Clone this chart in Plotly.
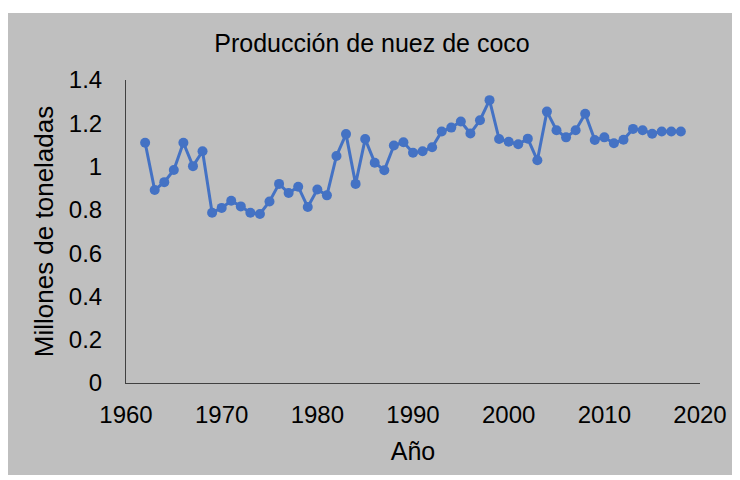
import plotly.graph_objects as go

years = list(range(1962, 2019))
production = [
    1.110, 0.892, 0.928, 0.984, 1.110, 1.002, 1.071, 0.787, 0.809, 0.842,
    0.816, 0.787, 0.781, 0.839, 0.920, 0.878, 0.907, 0.813, 0.894, 0.867,
    1.049, 1.150, 0.920, 1.127, 1.018, 0.983, 1.097, 1.112, 1.064, 1.071,
    1.089, 1.162, 1.180, 1.208, 1.153, 1.214, 1.307, 1.127, 1.115, 1.103,
    1.129, 1.029, 1.254, 1.168, 1.135, 1.168, 1.244, 1.123, 1.135, 1.108,
    1.124, 1.174, 1.168, 1.152, 1.162, 1.162, 1.162,
]
x_ticks = [1960, 1970, 1980, 1990, 2000, 2010, 2020]
y_ticks = [0, 0.2, 0.4, 0.6, 0.8, 1, 1.2, 1.4]
y_tick_text = ["0", "0.2", "0.4", "0.6", "0.8", "1", "1.2", "1.4"]

title_text = "Producción de nuez de coco"
x_title = "Año"
y_title = "Millones de toneladas"

BG = "#bfbfbf"
LINE = "#4472c4"
FONT = "Liberation Sans, Arial, sans-serif"

fig = go.Figure()
fig.add_trace(go.Scatter(
    x=years, y=production, mode="lines+markers",
    line=dict(color=LINE, width=3),
    marker=dict(color=LINE, size=10),
    showlegend=False,
))

# page body adds an 8px offset; figure is sized to fill the rest
W, H = 732, 472
L, R, T, B = 118, 40, 72, 97
pw, ph = W - L - R, H - T - B
fig.add_shape(
    type="rect", xref="paper", yref="paper", layer="below",
    x0=(0 - L) / pw, x1=(W + 10 - L) / pw,
    y0=(H - B - 467) / ph, y1=(H - B - 5) / ph,
    fillcolor=BG, line=dict(width=0),
)

fig.update_layout(
    width=W, height=H,
    margin=dict(l=L, r=R, t=T, b=B, autoexpand=False),
    paper_bgcolor="white",
    plot_bgcolor="rgba(0,0,0,0)",
    font=dict(family=FONT, size=24, color="#000000"),
    title=dict(text=title_text, x=364 / W, xref="container", xanchor="center",
               y=1 - 35 / H, yref="container", yanchor="middle",
               font=dict(size=25, color="#000000")),
    xaxis=dict(
        range=[1960, 2020], tickvals=x_ticks, ticktext=[str(v) for v in x_ticks],
        showgrid=False, zeroline=False, showline=True, linecolor="#404040", linewidth=1,
        ticks="", ticklabelstandoff=10, automargin=False,
        title=dict(text=x_title, font=dict(size=25), standoff=15),
    ),
    yaxis=dict(
        range=[0, 1.4], tickvals=y_ticks, ticktext=y_tick_text,
        showgrid=False, zeroline=False, showline=True, linecolor="#404040", linewidth=1,
        ticks="", ticklabelstandoff=18, automargin=False,
        title=dict(text=y_title, font=dict(size=26), standoff=7),
    ),
)

fig.write_html("out.html")
